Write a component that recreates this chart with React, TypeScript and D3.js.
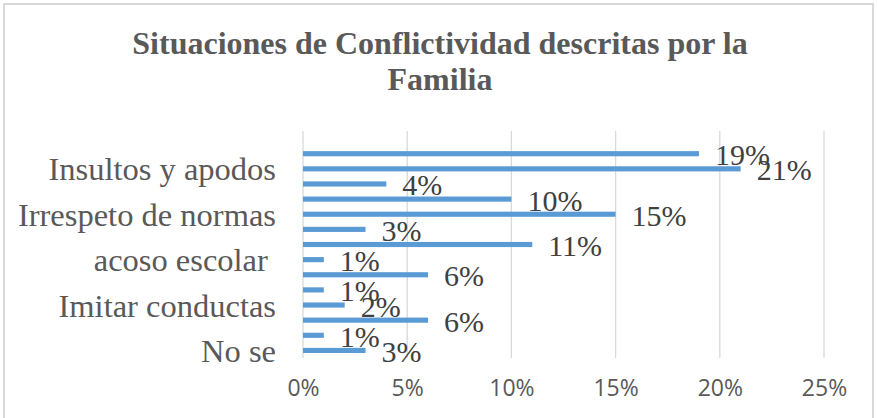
import { useEffect, useRef } from 'react';
import * as d3 from 'd3';

// categories from top to bottom; Excel only printed every third label
const categories = ['', '', 'Insultos y apodos', '', '', 'Irrespeto de normas', '', '', 'acoso escolar ', '', '', 'Imitar conductas', '', '', 'No se'];
const values: (number | null)[] = [null, 0.19, 0.21, 0.04, 0.10, 0.15, 0.03, 0.11, 0.01, 0.06, 0.01, 0.02, 0.06, 0.01, 0.03];
const xTicks = [0, 0.05, 0.10, 0.15, 0.20, 0.25];
const titleLines = ['Situaciones de Conflictividad descritas por la', 'Familia'];

export default function App() {
  const svgRef = useRef<SVGSVGElement>(null);

  useEffect(() => {
    if (!svgRef.current) return;
    const svg = d3.select(svgRef.current);
    svg.selectAll('*').remove();

    const width = 877;
    const margin = { top: 131, right: 53, left: 303 };

    const x = d3.scaleLinear()
      .domain([0, 0.25])
      .range([margin.left, width - margin.right]);

    const y = d3.scaleBand<number>()
      .domain(d3.range(categories.length))
      .range([margin.top, 358])
      .paddingInner(0.66)
      .paddingOuter(0.33);

    const center = (i: number) => (y(i) as number) + y.bandwidth() / 2;

    // chart border
    svg.append('rect')
      .attr('x', 4).attr('y', 4)
      .attr('width', 869).attr('height', 430)
      .attr('fill', 'white')
      .attr('stroke', '#D9D9D9')
      .attr('stroke-width', 2);

    // title
    svg.append('g')
      .attr('font-family', '"Liberation Serif", "Times New Roman", serif')
      .attr('font-size', 32)
      .attr('font-weight', 'bold')
      .attr('fill', '#595959')
      .attr('text-anchor', 'middle')
      .selectAll('text')
      .data(titleLines)
      .join('text')
      .attr('x', 440)
      .attr('y', (_, i) => 54 + i * 36)
      .text(d => d);

    // gridlines
    svg.append('g')
      .selectAll('line')
      .data(xTicks)
      .join('line')
      .attr('x1', d => x(d)).attr('x2', d => x(d))
      .attr('y1', margin.top).attr('y2', 358)
      .attr('stroke', '#D9D9D9')
      .attr('stroke-width', 1.3);

    // x axis labels
    svg.append('g')
      .attr('transform', 'translate(0,380)')
      .call(d3.axisBottom(x).tickValues(xTicks).tickSize(0).tickPadding(0).tickFormat(d3.format('.0%')))
      .call(g => g.select('.domain').remove())
      .call(g => g.selectAll('text')
        .attr('font-family', '"Open Sans", "Noto Sans", sans-serif')
        .attr('font-size', 23)
        .attr('fill', '#595959'));

    const barData = values.map((v, i) => ({ i, v })).filter(d => d.v !== null) as { i: number; v: number }[];

    // bars
    svg.append('g')
      .selectAll('rect')
      .data(barData)
      .join('rect')
      .attr('x', x(0))
      .attr('y', d => y(d.i) as number)
      .attr('width', d => x(d.v) - x(0))
      .attr('height', y.bandwidth())
      .attr('fill', '#5B9BD5');

    // category labels (keep the trailing space of "acoso escolar ")
    svg.append('g')
      .attr('font-family', '"Liberation Serif", "Times New Roman", serif')
      .attr('font-size', 32.5)
      .attr('fill', '#595959')
      .attr('text-anchor', 'end')
      .selectAll('text')
      .data(categories.map((c, i) => ({ c, i })).filter(d => d.c !== ''))
      .join('text')
      .attr('xml:space', 'preserve')
      .style('white-space', 'pre')
      .attr('x', 276)
      .attr('y', d => center(d.i) + 11.5)
      .text(d => d.c);

    // value labels
    svg.append('g')
      .attr('font-family', '"Liberation Serif", "Times New Roman", serif')
      .attr('font-size', 30)
      .attr('fill', '#404040')
      .selectAll('text')
      .data(barData)
      .join('text')
      .attr('x', d => x(d.v) + 16)
      .attr('y', d => center(d.i) + 11.5)
      .text(d => d3.format('.0%')(d.v));
  }, []);

  return (
    <svg ref={svgRef} width={877} height={418} style={{ position: 'absolute', left: 0, top: 0 }} />
  );
}
